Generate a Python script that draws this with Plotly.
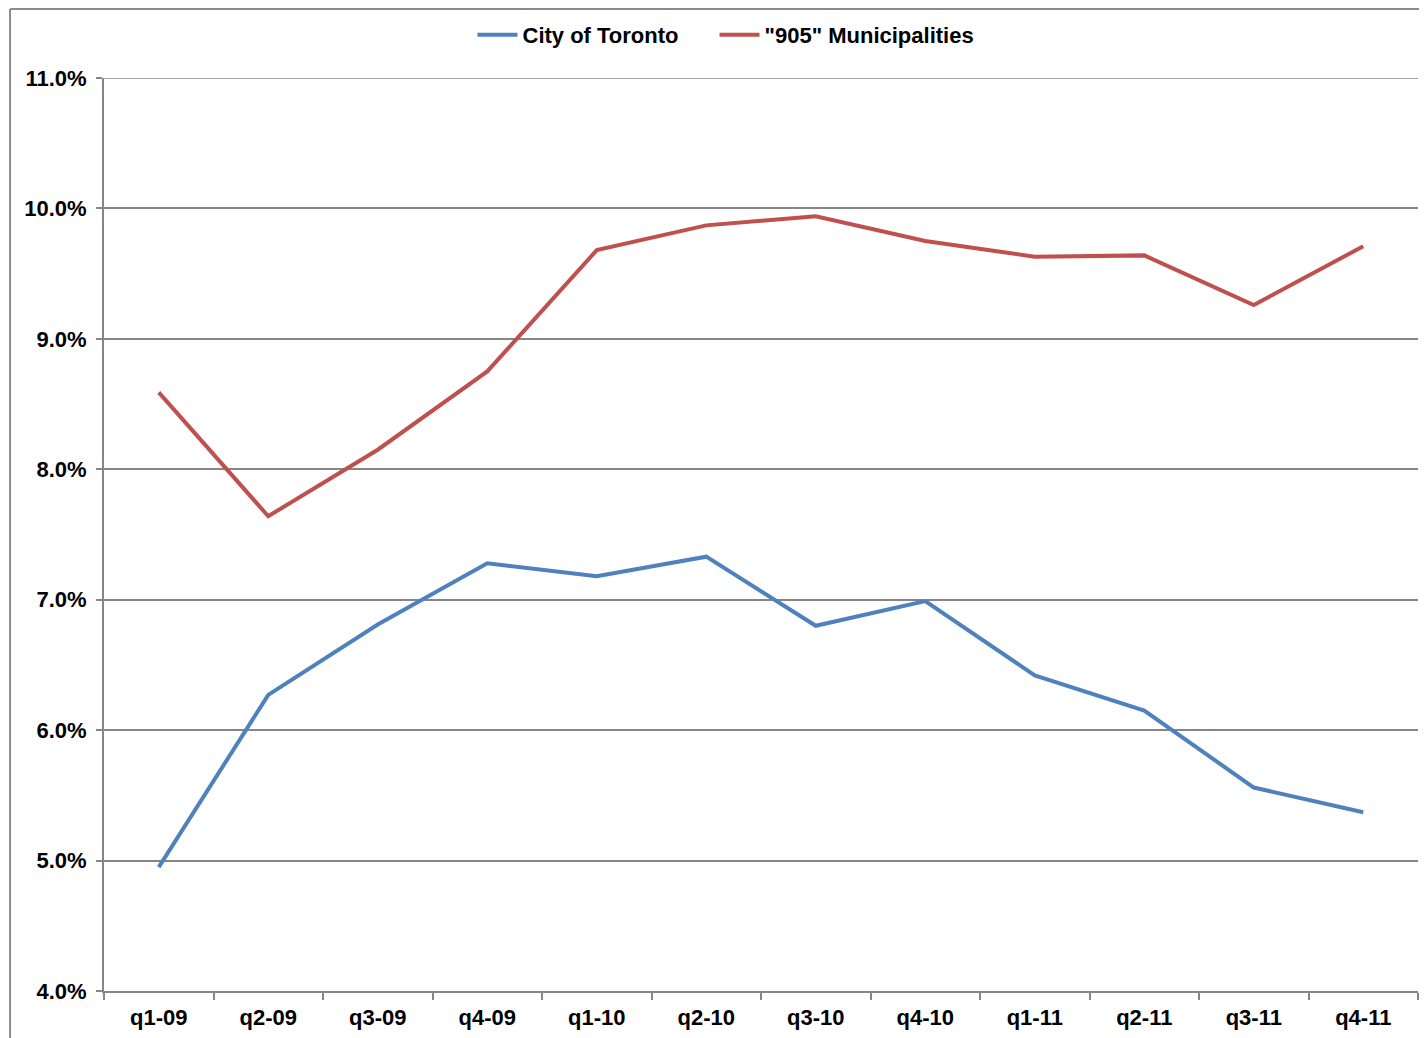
import plotly.graph_objects as go

quarters = ['q1-09', 'q2-09', 'q3-09', 'q4-09', 'q1-10', 'q2-10',
            'q3-10', 'q4-10', 'q1-11', 'q2-11', 'q3-11', 'q4-11']

# rates in %
toronto = [4.95, 6.27, 6.81, 7.28, 7.18, 7.33, 6.80, 6.99, 6.42, 6.15, 5.56, 5.37]
muni905 = [8.59, 7.64, 8.15, 8.75, 9.68, 9.87, 9.94, 9.75, 9.63, 9.64, 9.26, 9.71]

y_min, y_max = 4, 11

font = 'Liberation Sans, Arial, sans-serif'
grey = '#868686'

fig = go.Figure()
fig.add_trace(go.Scatter(x=quarters, y=toronto, mode='lines', name='City of Toronto',
                         line=dict(color='#4F81BD', width=4), legend='legend'))
fig.add_trace(go.Scatter(x=quarters, y=muni905, mode='lines', name='"905" Municipalities',
                         line=dict(color='#C0504D', width=4), legend='legend2'))

legend_style = dict(orientation='h', xref='container', yref='container',
                    xanchor='left', y=0.974, yanchor='middle',
                    bgcolor='rgba(0,0,0,0)',
                    font=dict(family=font, size=22, color='black', weight='bold'),
                    itemwidth=40)

# page has an 8px body margin, so margins are shifted to compensate
fig.update_layout(
    width=1427, height=1038,
    margin=dict(l=96, r=17, t=70, b=55, autoexpand=False),
    paper_bgcolor='white', plot_bgcolor='white',
    font=dict(family=font, size=22, color='black'),
    showlegend=True,
    legend=dict(legend_style, x=0.3255),
    legend2=dict(legend_style, x=0.4951),
    shapes=[
        # outer chart frame (top and left edges)
        dict(type='line', xref='paper', yref='paper', x0=-0.0715, x1=1.1, y0=1.0756, y1=1.0756,
             line=dict(color='#8c8c8c', width=2)),
        dict(type='line', xref='paper', yref='paper', x0=-0.0715, x1=-0.0715, y0=1.0756, y1=-0.1,
             line=dict(color='#8c8c8c', width=2)),
        # top gridline
        dict(type='line', xref='paper', yref='y', x0=0, x1=1, y0=y_max, y1=y_max,
             line=dict(color=grey, width=1.5)),
    ],
)

fig.update_xaxes(
    type='category', range=[-0.5, 11.5], automargin=False,
    showline=True, linecolor=grey, linewidth=2,
    showgrid=False, ticks='outside', tickson='boundaries', ticklen=7, tickcolor=grey, tickwidth=2,
    tickfont=dict(family=font, size=22, color='black', weight='bold'),
    ticklabelstandoff=6,
)
fig.update_yaxes(
    range=[y_min, y_max], dtick=1, ticksuffix='%', tickformat='.1f', automargin=False,
    showline=True, linecolor=grey, linewidth=2,
    showgrid=True, gridcolor=grey, gridwidth=1.5, zeroline=False,
    ticks='outside', ticklen=6, tickcolor=grey, tickwidth=2,
    tickfont=dict(family=font, size=22, color='black', weight='bold'),
    ticklabelstandoff=5,
)

fig.write_html('out.html')
